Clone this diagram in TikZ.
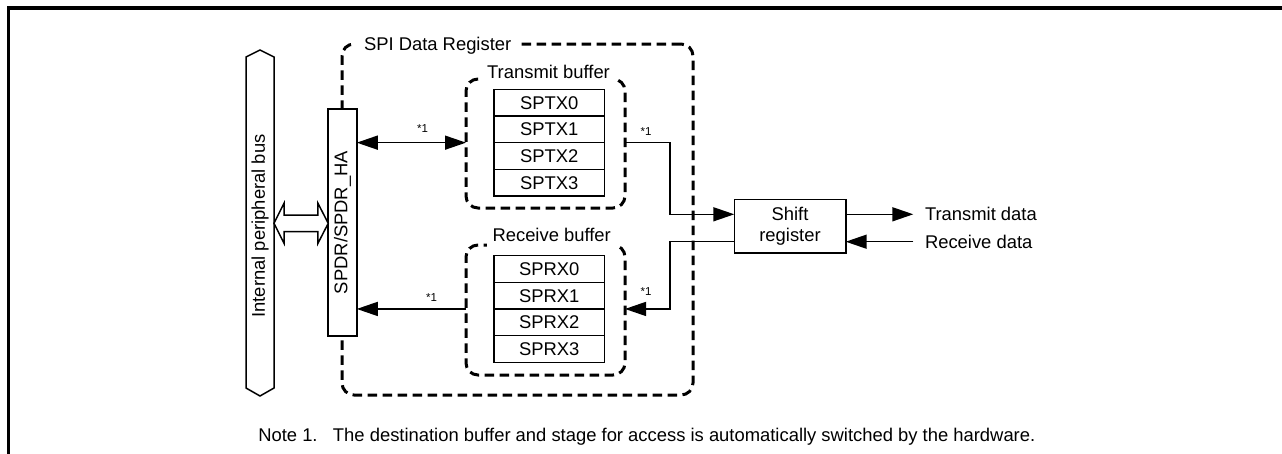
\documentclass[tikz,border=0pt]{standalone}
\usepackage{fontspec}
\setmainfont{Liberation Sans}
\usetikzlibrary{arrows.meta,calc}
\begin{document}
\begin{tikzpicture}[x=1pt,y=-1pt,
  every node/.style={font=\fontsize{18.4}{21}\selectfont, outer sep=0pt},
  dashbox/.style={draw, line width=3pt, dash pattern=on 9.5pt off 5.5pt, rounded corners=12pt, inner sep=0pt},
  cell/.style={draw, line width=1.6pt, fill=white, minimum width=110.3pt, minimum height=26.7pt, inner sep=0pt},
  solidbox/.style={draw, line width=1.6pt, fill=white, inner sep=0pt},
  conn/.style={line width=1.5pt},
  tip/.style={-{Triangle[length=21pt,width=14pt]}},
  dtip/.style={{Triangle[length=21pt,width=14pt]}-{Triangle[length=21pt,width=14pt]}},
  star/.style={font=\fontsize{11.5}{13}\selectfont, inner sep=0pt},
  hollow/.style={line width=1.5pt, fill=white},
  frameline/.style={line width=3.5pt}]
\useasboundingbox (0,0) rectangle (1282,453);
\fill[white] (0,0) rectangle (1282,453);
% frame
\draw[frameline] (8.7,470) -- (8.7,8) -- (1300,8);
% internal peripheral bus
\draw[hollow] (246,57) -- (260,50) -- (274,57) -- (274,388) -- (260,396) -- (246,388) -- cycle;
\node[rotate=90, inner sep=0pt] (bustext) at (260,226) {Internal peripheral bus};
\coordinate (busR) at (274,223.3);
% SPI data register container
\node[dashbox, minimum width=351pt, minimum height=351pt] (spi) at (517.5,219.5) {};
\node[fill=white, inner xsep=8pt, inner ysep=4pt, anchor=base west] (spilabel) at (356,50) {SPI Data Register};
% SPDR box
\node[solidbox, minimum width=28.5pt, minimum height=227pt] (spdr) at (342.5,222.5) {};
\node[rotate=90, inner sep=0pt] (spdrtext) at (spdr.center) {SPDR/SPDR\_HA};
\coordinate (spdrL) at (spdr.west |- busR);
% hollow double arrow
\draw[hollow] (busR) -- ++(10,-20) -- ++(0,11.7) -| ($(spdrL)+(-10.3,-20)$) -- (spdrL) -- ++(-10.3,20) -- ++(0,-11.7) -| ($(busR)+(10,20)$) -- cycle;
% transmit buffer
\node[dashbox, minimum width=159pt, minimum height=129pt] (txbuf) at (545.5,143.5) {};
\node[fill=white, inner xsep=4pt, inner ysep=4pt, anchor=base] (txlabel) at (548.5,78) {Transmit buffer};
\node[cell] (tx0) at (549.2,102.7) {SPTX0};
\node[cell] (tx1) at (549.2,129.3) {SPTX1};
\node[cell] (tx2) at (549.2,156) {SPTX2};
\node[cell] (tx3) at (549.2,182.7) {SPTX3};
% receive buffer
\node[dashbox, minimum width=159pt, minimum height=130pt] (rxbuf) at (545.5,310) {};
\node[fill=white, inner xsep=6pt, inner ysep=5pt, anchor=base] (rxlabel) at (551.7,241.7) {Receive buffer};
\node[cell] (rx0) at (549.2,269) {SPRX0};
\node[cell] (rx1) at (549.2,295.7) {SPRX1};
\node[cell] (rx2) at (549.2,322.3) {SPRX2};
\node[cell] (rx3) at (549.2,349) {SPRX3};
% shift register
\node[solidbox, minimum width=111.4pt, minimum height=53.4pt, align=center] (shift) at (790,226) {Shift\\register};
% junctions
\coordinate (jt) at (670,214.3);
\coordinate (jr) at (670,241.7);
\coordinate (txend) at (913.3,214.3);
\coordinate (rxstart) at (913.3,241.7);
% connectors
\draw[conn, dtip] (spdr.east |- tx2.north) -- (txbuf.west |- tx2.north);
\draw[conn, tip] (rxbuf.west |- rx2.north) -- (spdr.east |- rx2.north);
\draw[conn, tip] (txbuf.east |- tx2.north) -| (jt) -- (jt -| shift.west);
\draw[conn, tip] (shift.west |- jr) -- (jr) |- (rxbuf.east |- rx2.north);
\draw[conn, tip] (shift.east |- jt) -- (txend);
\draw[conn, tip] (rxstart) -- (shift.east |- jr);
% labels
\node[star] (s1) at (422.5,129) {*1};
\node[star] (s2) at (431.5,297.5) {*1};
\node[star] (s3) at (646,132) {*1};
\node[star] (s4) at (646,292) {*1};
\node[anchor=west, inner sep=0pt] (txd) at (925,214.3) {Transmit data};
\node[anchor=west, inner sep=0pt] (rxd) at (925,241.7) {Receive data};
\node[anchor=base west, inner sep=0pt] (note) at (258.3,441.7) {\makebox[74.7pt][l]{Note 1.}The destination buffer and stage for access is automatically switched by the hardware.};
\end{tikzpicture}
\end{document}
